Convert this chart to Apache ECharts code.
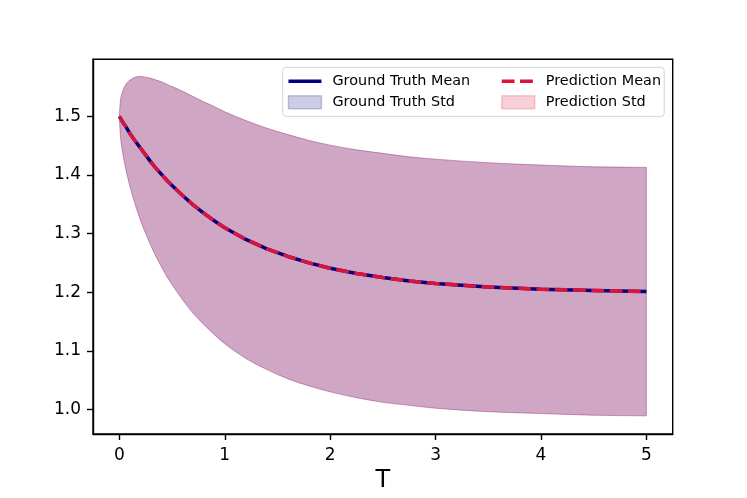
<!DOCTYPE html>
<html>
<head>
<meta charset="utf-8">
<script src="https://cdn.jsdelivr.net/npm/echarts@6/dist/echarts.min.js"></script>
<style>
  html, body { margin: 0; padding: 0; background: #fff; }
  #chart { width: 747px; height: 498px; }
</style>
</head>
<body>
<div id="chart"></div>
<script>
const tValues = [0, 0.01, 0.03, 0.06, 0.1, 0.15, 0.2, 0.25, 0.3, 0.35, 0.4, 0.45, 0.5, 0.6, 0.7, 0.8, 0.9, 1.0,
  1.2, 1.4, 1.6, 1.8, 2.0, 2.25, 2.5, 2.75, 3.0, 3.5, 4.0, 4.5, 5.0];

const gtMean = [1.500, 1.497, 1.491, 1.483, 1.471, 1.458, 1.446, 1.434, 1.422, 1.411, 1.401, 1.391, 1.382, 1.365, 1.349, 1.335, 1.322, 1.310,
  1.290, 1.274, 1.261, 1.250, 1.241, 1.232, 1.225, 1.219, 1.215, 1.209, 1.205, 1.203, 1.201];
const gtUpper = [1.500, 1.527, 1.542, 1.554, 1.562, 1.567, 1.568, 1.567, 1.565, 1.562, 1.559, 1.555, 1.551, 1.543, 1.534, 1.525, 1.517, 1.508,
  1.493, 1.480, 1.469, 1.459, 1.451, 1.443, 1.437, 1.431, 1.427, 1.421, 1.417, 1.414, 1.413];
const gtLower = [1.500, 1.467, 1.440, 1.411, 1.381, 1.350, 1.323, 1.300, 1.279, 1.260, 1.243, 1.227, 1.213, 1.187, 1.164, 1.145, 1.128, 1.112,
  1.087, 1.068, 1.052, 1.040, 1.030, 1.020, 1.012, 1.007, 1.002, 0.996, 0.993, 0.990, 0.989];

const predMean = [1.500, 1.497, 1.491, 1.483, 1.471, 1.458, 1.446, 1.434, 1.422, 1.411, 1.401, 1.391, 1.382, 1.365, 1.349, 1.335, 1.322, 1.310,
  1.290, 1.274, 1.261, 1.250, 1.241, 1.232, 1.225, 1.219, 1.215, 1.209, 1.205, 1.203, 1.201];
const predUpper = [1.500, 1.527, 1.542, 1.554, 1.562, 1.567, 1.568, 1.567, 1.565, 1.562, 1.559, 1.555, 1.551, 1.543, 1.534, 1.525, 1.517, 1.508,
  1.493, 1.480, 1.469, 1.459, 1.451, 1.443, 1.437, 1.431, 1.427, 1.421, 1.417, 1.414, 1.413];
const predLower = [1.500, 1.467, 1.440, 1.411, 1.381, 1.350, 1.323, 1.300, 1.279, 1.260, 1.243, 1.227, 1.213, 1.187, 1.164, 1.145, 1.128, 1.112,
  1.087, 1.068, 1.052, 1.040, 1.030, 1.020, 1.012, 1.007, 1.002, 0.996, 0.993, 0.990, 0.989];

const xTicks = [0, 1, 2, 3, 4, 5];
const yTicks = [1.0, 1.1, 1.2, 1.3, 1.4, 1.5];

const FONT = "DejaVu Sans";
const NAVY = "#000080";
const CRIMSON = "#dc143c";
const NAVY_FILL = "rgba(0,0,128,0.2)";
const CRIMSON_FILL = "rgba(220,20,60,0.2)";

function pairs(ys) {
  return tValues.map((t, i) => [t, ys[i]]);
}

// cubic hermite in x through pixel points (handles uneven spacing), starting at pts[0]
function curveThrough(pts) {
  let d = "";
  const slope = (a, b) => (b[1] - a[1]) / (b[0] - a[0]);
  for (let i = 0; i < pts.length - 1; i += 1) {
    const p0 = pts[i - 1] || pts[i];
    const p1 = pts[i];
    const p2 = pts[i + 1];
    const p3 = pts[i + 2] || p2;
    const h = p2[0] - p1[0];
    const s1 = slope(p0 === p1 ? p1 : p0, p2);
    const s2 = slope(p1, p3 === p2 ? p2 : p3);
    d += ` C${p1[0] + h / 3},${p1[1] + (s1 * h) / 3} ${p2[0] - h / 3},${p2[1] - (s2 * h) / 3} ${p2[0]},${p2[1]}`;
  }
  return d;
}

// fill_between style band: upper edge forward, lower edge back, closed
function bandSeries(name, upper, lower, fill) {
  return {
    name: name,
    type: "custom",
    data: tValues.map((t, i) => [t, lower[i], upper[i]]),
    encode: { x: 0, y: [1, 2] },
    itemStyle: { color: fill },
    silent: true,
    z: 1,
    renderItem: (params, api) => {
      if (params.dataIndex !== 0) {
        return null;
      }
      const n = tValues.length;
      const top = [];
      const bottom = [];
      for (let i = 0; i < n; i += 1) {
        top.push(api.coord([api.value(0, i), api.value(2, i)]));
        bottom.push(api.coord([api.value(0, i), api.value(1, i)]));
      }
      bottom.reverse();
      const d = `M${top[0][0]},${top[0][1]}` + curveThrough(top)
        + ` L${bottom[0][0]},${bottom[0][1]}` + curveThrough(bottom) + " Z";
      return {
        type: "path",
        shape: { pathData: d },
        style: { fill: fill, stroke: fill, lineWidth: 1 },
        silent: true,
      };
    },
  };
}

const chart = echarts.init(document.getElementById("chart"));

const legendText = { fontFamily: FONT, fontSize: 14.4, color: "#000", lineHeight: 16, padding: [0, 0, 0, 6] };
const hiddenSymbol = { color: "transparent", borderWidth: 0, opacity: 0 };

chart.setOption({
  animation: false,
  backgroundColor: "#fff",
  grid: {
    left: 93, right: 74.3, top: 59.3, bottom: 62.6,
    show: true, borderColor: "#000", borderWidth: 1.4, backgroundColor: "transparent",
  },
  legend: [
    {
      orient: "vertical",
      left: 282.7,
      top: 67.3,
      selectedMode: false,
      itemWidth: 33,
      itemHeight: 13,
      itemGap: 5,
      lineStyle: { width: 3.5 },
      textStyle: legendText,
      backgroundColor: "rgba(255,255,255,0.8)",
      borderColor: "#d4d4d4",
      borderWidth: 1,
      borderRadius: 3,
      padding: [6, 194, 6, 4],
      z: 5,
      data: [
        { name: "Ground Truth Mean", itemStyle: hiddenSymbol },
        { name: "Ground Truth Std", icon: "rect", itemStyle: { color: NAVY_FILL, borderColor: NAVY_FILL, borderWidth: 1.5 } },
      ],
    },
    {
      orient: "vertical",
      left: 500,
      top: 73.3,
      selectedMode: false,
      itemWidth: 33,
      itemHeight: 13,
      itemGap: 5,
      lineStyle: { width: 3.5 },
      textStyle: legendText,
      padding: 0,
      z: 6,
      data: [
        { name: "Prediction Mean", itemStyle: hiddenSymbol },
        { name: "Prediction Std", icon: "rect", itemStyle: { color: CRIMSON_FILL, borderColor: CRIMSON_FILL, borderWidth: 1.5 } },
      ],
    },
  ],
  xAxis: {
    type: "value",
    min: -0.25,
    max: 5.25,
    name: "T",
    nameLocation: "middle",
    nameGap: 35,
    nameTextStyle: { fontFamily: FONT, fontSize: 24, color: "#000" },
    axisLine: { show: true, onZero: false, lineStyle: { color: "#000", width: 1.4 } },
    axisTick: { show: true, length: 6, lineStyle: { color: "#000", width: 1.4 }, customValues: xTicks },
    axisLabel: { fontFamily: FONT, fontSize: 17, color: "#000", margin: 13, customValues: xTicks, formatter: (v) => String(v) },
    splitLine: { show: false },
  },
  yAxis: {
    type: "value",
    min: 0.958,
    max: 1.5975,
    axisLine: { show: true, onZero: false, lineStyle: { color: "#000", width: 1.4 } },
    axisTick: { show: true, length: 6, lineStyle: { color: "#000", width: 1.4 }, customValues: yTicks },
    axisLabel: { fontFamily: FONT, fontSize: 17, color: "#000", margin: 12, customValues: yTicks, formatter: (v) => v.toFixed(1) },
    splitLine: { show: false },
  },
  series: [
    bandSeries("Ground Truth Std", gtUpper, gtLower, NAVY_FILL),
    bandSeries("Prediction Std", predUpper, predLower, CRIMSON_FILL),
    {
      name: "Ground Truth Mean",
      type: "line",
      data: pairs(gtMean),
      symbol: "none",
      silent: true,
      itemStyle: { color: NAVY },
      lineStyle: { color: NAVY, width: 3.5 },
      z: 3,
    },
    {
      name: "Prediction Mean",
      type: "line",
      data: pairs(predMean),
      symbol: "none",
      silent: true,
      itemStyle: { color: CRIMSON },
      lineStyle: { color: CRIMSON, width: 3.5, type: [12.8, 5.5], cap: "butt" },
      z: 4,
    },
  ],
});
</script>
</body>
</html>
